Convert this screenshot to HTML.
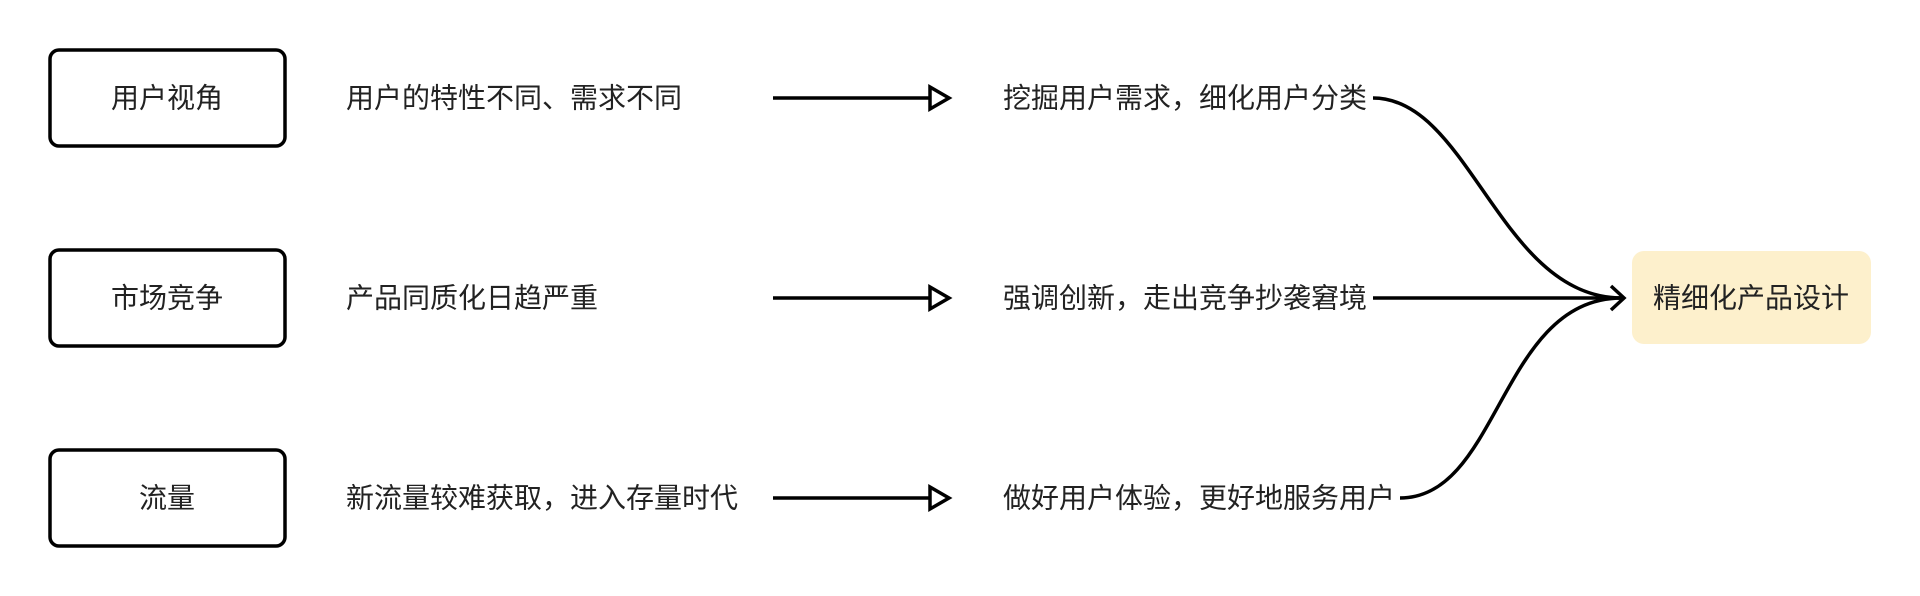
<!DOCTYPE html>
<html><head><meta charset="utf-8"><style>
html,body{margin:0;padding:0;background:#fff;}
svg{display:block}
text{font-family:"Liberation Sans","Noto Sans CJK SC",sans-serif;font-size:28px;fill:#222;dominant-baseline:central}
</style></head><body>
<svg width="1920" height="596" viewBox="0 0 1920 596" xmlns="http://www.w3.org/2000/svg">
<g fill="none" stroke="#000" stroke-width="3.5">
<rect x="50" y="50" width="235" height="96" rx="9"/>
<rect x="50" y="250" width="235" height="96" rx="9"/>
<rect x="50" y="450" width="235" height="96" rx="9"/>
<path d="M773 98H930M773 298H930M773 498H930"/>
<path d="M930 87L949 98L930 109Z M930 287L949 298L930 309Z M930 487L949 498L930 509Z"/>
<path d="M1373 98C1470 98 1500 298 1622 298"/>
<path d="M1373 298H1622"/>
<path d="M1400 498C1500 498 1500 298 1622 298"/>
<path d="M1611 286L1624 298L1611 310"/>
</g>
<rect x="1632" y="251" width="239" height="93" rx="12" fill="#fdf0cc"/>
<text x="167" y="98" text-anchor="middle">用户视角</text>
<text x="167" y="298" text-anchor="middle">市场竞争</text>
<text x="167" y="498" text-anchor="middle">流量</text>
<text x="346" y="98">用户的特性不同、需求不同</text>
<text x="346" y="298">产品同质化日趋严重</text>
<text x="346" y="498">新流量较难获取，进入存量时代</text>
<text x="1003" y="98">挖掘用户需求，细化用户分类</text>
<text x="1003" y="298">强调创新，走出竞争抄袭窘境</text>
<text x="1003" y="498">做好用户体验，更好地服务用户</text>
<text x="1751" y="298" text-anchor="middle">精细化产品设计</text>
</svg>
</body></html>
